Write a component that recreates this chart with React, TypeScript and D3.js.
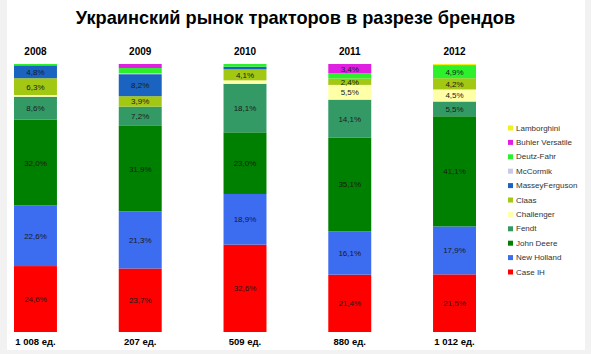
import React from "react";
import * as d3 from "d3";

const years = ["2008", "2009", "2010", "2011", "2012"];
const totals = ["1 008 ед.", "207 ед.", "509 ед.", "880 ед.", "1 012 ед."];

// series, bottom to top
const brands = [
  "Case IH",
  "New Holland",
  "John Deere",
  "Fendt",
  "Challenger",
  "Claas",
  "MasseyFerguson",
  "McCormik",
  "Deutz-Fahr",
  "Buhler Versatile",
  "Lamborghini",
];
const caseIH = [24.6, 23.7, 32.6, 21.4, 21.5];
const newHolland = [22.6, 21.3, 18.9, 16.1, 17.9];
const johnDeere = [32.0, 31.9, 23.0, 35.1, 41.1];
const fendt = [8.6, 7.2, 18.1, 14.1, 5.5];
const challenger = [0.6, 0, 1.3, 5.5, 4.5];
const claas = [6.3, 3.9, 4.1, 2.4, 4.2];
const massey = [4.8, 8.2, 1.0, 0, 0];
const mccormik = [0, 0.4, 0, 0, 0];
const deutz = [0.5, 1.9, 1.0, 2.0, 4.9];
const buhler = [0, 1.5, 0, 3.4, 0];
const lamborghini = [0, 0, 0, 0, 0.4];

const seriesValues = [
  caseIH, newHolland, johnDeere, fendt, challenger, claas,
  massey, mccormik, deutz, buhler, lamborghini,
];
const colors = [
  "#ff0000", "#3c6cf0", "#008000", "#339a66", "#ffffa8", "#a2c814",
  "#1a63c0", "#c8c8ea", "#2cf02c", "#e020e0", "#f0f020",
];

const W = 591;
const H = 354;

export default function App() {
  const x = d3.scaleBand<string>().domain(years).range([14, 476]).paddingInner(0.59).paddingOuter(0);
  const y = d3.scaleLinear().domain([0, 100]).range([332, 64]);

  const table = years.map((yr, i) => {
    const row: any = { year: yr };
    brands.forEach((b, j) => (row[b] = seriesValues[j][i]));
    return row;
  });
  const stacked = d3.stack<any>().keys(brands)(table);

  const fmt = (v: number) => v.toFixed(1).replace(".", ",") + "%";

  const legendY = d3.scalePoint<string>().domain([...brands].reverse()).range([128, 272]);

  return (
    <svg width={W} height={H} style={{ position: "absolute", left: 0, top: 0, background: "#fff" }}
      fontFamily="Arial, 'Liberation Sans', sans-serif">
      <rect x={0} y={0} width={W} height={H} fill="#fff" />
      <rect x={0} y={0} width={7} height={H} fill="#f2f2f2" />
      <rect x={585} y={0} width={6} height={H} fill="#f2f2f2" />
      <rect x={0} y={350} width={W} height={4} fill="#f2f2f2" />
      <text x={295.5} y={24} textAnchor="middle" fontSize={18.2} fontWeight="bold" fill="#000">
        Украинский рынок тракторов в разрезе брендов
      </text>
      {years.map((yr) => (
        <text key={yr} x={(x(yr) as number) + x.bandwidth() / 2} y={55} textAnchor="middle"
          fontSize={10} fontWeight="bold" fill="#000">{yr}</text>
      ))}
      {stacked.map((layer, j) => (
        <g key={brands[j]}>
          {layer.map((d, i) => {
            const v = d[1] - d[0];
            if (v <= 0) return null;
            return (
              <rect key={i} x={x(years[i])} y={y(d[1])} width={x.bandwidth()}
                height={y(d[0]) - y(d[1])} fill={colors[j]} />
            );
          })}
        </g>
      ))}
      {stacked.map((layer, j) => (
        <g key={"l" + brands[j]}>
          {layer.map((d, i) => {
            const v = d[1] - d[0];
            if (v < 2.2) return null;
            return (
              <text key={i} x={(x(years[i]) as number) + x.bandwidth() / 2}
                y={(y(d[0]) + y(d[1])) / 2 + 3} textAnchor="middle" fontSize={8} fill="#1a1a1a">
                {fmt(v)}
              </text>
            );
          })}
        </g>
      ))}
      {years.map((yr, i) => (
        <text key={"t" + yr} x={(x(yr) as number) + x.bandwidth() / 2} y={345} textAnchor="middle"
          fontSize={9.5} fontWeight="bold" fill="#000">{totals[i]}</text>
      ))}
      {brands.map((b, j) => (
        <g key={"leg" + b} transform={`translate(508, ${legendY(b)})`}>
          <rect x={0} y={-2.5} width={5} height={5} fill={colors[j]} />
          <text x={8} y={2.5} fontSize={8} fill="#333">{b}</text>
        </g>
      ))}
    </svg>
  );
}
